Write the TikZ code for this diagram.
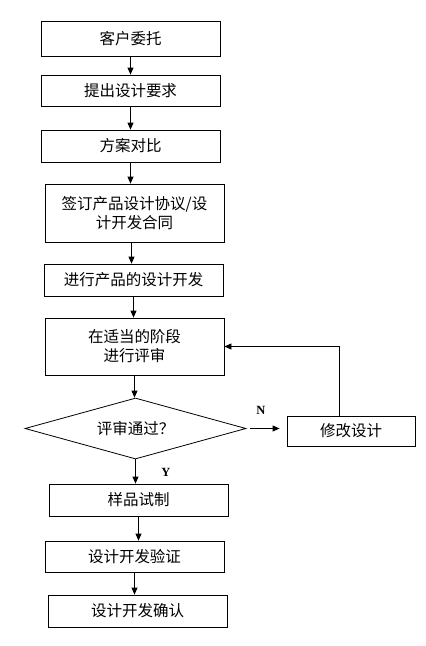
\documentclass[tikz,border=0pt]{standalone}
\usepackage{fontspec}
\setmainfont{Noto Sans CJK SC}
\newfontfamily\latinfont{Liberation Serif}
\usepackage{tikz}
\usetikzlibrary{arrows.meta,shapes.geometric}

\begin{document}
\begin{tikzpicture}[
  x=1pt, y=-1pt,
  every node/.style={font=\fontsize{15.5}{19}\selectfont},
  stage/.style={draw, line width=0.8pt, minimum width=179pt, align=center, inner sep=0pt},
  check/.style={draw, diamond, aspect=3.6, line width=0.8pt, minimum width=221pt,
                minimum height=61pt, inner sep=0pt},
  lbl/.style={font=\latinfont\bfseries\fontsize{12.5}{14}\selectfont},
  arr/.style={-{Triangle[length=7pt,width=6pt]}, line width=0.8pt}
]
  \useasboundingbox (0,0) rectangle (426,646);

  \node[stage, minimum height=35pt] (order)   at (130.5,38.5) {客户委托};
  \node[stage, minimum height=31pt] (req)     at (130.5,90.5) {提出设计要求};
  \node[stage, minimum height=32pt] (compare) at (130.5,146)  {方案对比};
  \node[stage, minimum height=58pt] (sign)    at (134.5,213)  {签订产品设计协议/设\\计开发合同};
  \node[stage, minimum height=32pt] (develop) at (133.5,280)  {进行产品的设计开发};
  \node[stage, minimum height=57pt] (review)  at (134.5,346.5){在适当的阶段\\进行评审};
  \node[check] (pass) at (135.5,428.5) {评审通过？};
  \node[draw, line width=0.8pt, minimum width=128pt, minimum height=30pt, inner sep=0pt]
    (modify) at (351,431) {修改设计};
  \node[stage, minimum height=32pt] (sample)  at (138.5,500)  {样品试制};
  \node[stage, minimum height=31pt] (verify)  at (134.5,556.5){设计开发验证};
  \node[stage, minimum height=32pt] (confirm) at (137.5,611)  {设计开发确认};

  \draw[arr] (order.south)   -- (order.south |- req.north);
  \draw[arr] (req.south)     -- (req.south |- compare.north);
  \draw[arr] (compare.south) -- (compare.south |- sign.north);
  \draw[arr] ([xshift=-3pt]sign.south) -- ([xshift=-3pt]sign.south |- develop.north);
  \draw[arr] (develop.south) -- (develop.south |- review.north);
  \draw[arr] (review.south)  -- (review.south |- pass.north);
  \draw[arr, shorten <=4pt, shorten >=7pt] (pass.east) -- (pass.east -| modify.west);
  \draw[arr] (pass.south)    -- (pass.south |- sample.north);
  \draw[arr] (sample.south)  -- (sample.south |- verify.north);
  \draw[arr] (verify.south)  -- (verify.south |- confirm.north);
  \draw[arr] ([xshift=-12pt]modify.north) |- (review.east);

  \node[lbl] (no)  at (261,410) {N};
  \node[lbl] (yes) at (166,472) {Y};
\end{tikzpicture}
\end{document}
